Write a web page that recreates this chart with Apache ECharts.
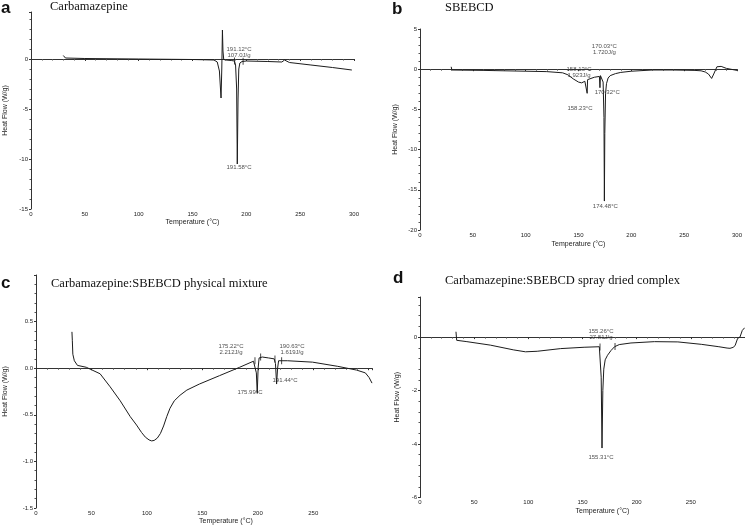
<!DOCTYPE html>
<html><head><meta charset="utf-8">
<script src="https://cdn.jsdelivr.net/npm/echarts@6/dist/echarts.min.js"></script>
<style>html,body{margin:0;padding:0;background:#fff}#c{width:745px;height:527px}</style>
</head><body><div id="c"></div>
<script>
// ---- Data (temperature °C, heat flow W/g) ----
var tempA = [30, 30.5, 32, 50, 100, 150, 170, 173, 175, 176.5, 177.2, 177.8, 178.3, 179, 181, 186, 189, 190, 191, 191.6, 192.3, 193, 194, 196, 200, 220, 233, 235.5, 237, 240, 260, 280, 298];
var flowA = [0.35, 0.15, 0.1, 0.05, 0, -0.05, -0.1, -0.3, -1.2, -3.9, -1.0, 2.9, 0.8, -0.05, -0.1, -0.15, -0.2, -0.6, -3, -10.5, -4, -1.0, -0.4, -0.25, -0.2, -0.25, -0.3, -0.1, -0.2, -0.35, -0.6, -0.85, -1.1];

var tempB = [29.5, 30.2, 32, 60, 100, 120, 135, 140, 145, 150, 153, 156, 157.8, 158.2, 158.6, 160, 165, 169.8, 170.3, 170.8, 172, 173.3, 174.1, 174.5, 174.9, 175.6, 176.5, 178, 180, 185, 190, 200, 220, 240, 260, 266, 270, 273, 276, 278, 281, 285, 290, 300];
var flowB = [0.3, -0.1, -0.1, -0.15, -0.25, -0.3, -0.45, -0.7, -1.2, -1.6, -1.7, -1.5, -1.4, -3.0, -1.3, -1.1, -1.0, -0.9, -2.3, -0.8, -0.8, -1.6, -6, -16.4, -8, -3, -1.8, -1.1, -0.8, -0.55, -0.4, -0.25, -0.1, -0.1, -0.15, -0.2, -0.35, -0.6, -1.15, -0.6, 0.3, 0.35, 0.1, -0.15];

var tempC = [28.6, 28.9, 29.3, 30.5, 33, 40, 51, 59, 67, 75, 80, 84, 87, 90, 92, 94, 96.5, 99, 101.5, 104, 106.6, 110, 114.6, 120, 130, 146, 162, 173, 174.5, 175.3, 176, 176.7, 177.5, 180, 185, 189.5, 190.5, 191.4, 192.2, 193, 200, 220, 240, 255, 262, 265, 267.3];
var flowC = [0.39, 0.3, 0.15, 0.08, 0.03, 0.01, -0.06, -0.2, -0.35, -0.52, -0.61, -0.69, -0.74, -0.77, -0.78, -0.775, -0.75, -0.7, -0.62, -0.52, -0.43, -0.35, -0.29, -0.235, -0.17, -0.08, 0.01, 0.075, 0.08, -0.05, -0.27, 0.0, 0.11, 0.12, 0.11, 0.1, 0.05, -0.17, 0.0, 0.08, 0.08, 0.065, 0.02, -0.02, -0.05, -0.1, -0.16];

var tempD = [30.7, 31.3, 33, 40, 60, 80, 90, 100, 120, 140, 153, 154.6, 155.3, 156, 156.8, 158, 160, 163, 166, 170, 180, 200, 220, 240, 255, 262, 264.5, 266, 267.5, 269, 271, 273, 275, 277];
var flowD = [0.2, -0.12, -0.15, -0.17, -0.3, -0.48, -0.55, -0.53, -0.43, -0.38, -0.36, -1.5, -4.15, -2.0, -1.2, -0.85, -0.68, -0.5, -0.36, -0.28, -0.22, -0.17, -0.18, -0.27, -0.36, -0.41, -0.42, -0.35, -0.38, -0.3, -0.05, 0.0, 0.25, 0.35];

// integration-limit markers [temp, flow]
var markA = [[189, -0.2], [197, -0.22]];
var markC = [[174.2, 0.08], [178.7, 0.12], [190.1, 0.1], [195.4, 0.08]];
var markD = [[153.6, -0.37], [166.4, -0.35]];

// peak annotations [temp, flow, text]
var annA = [[193.2, 0.7, '191.12°C\n107.0J/g'], [193.2, -10.8, '191.58°C']];
var annB = [[174.5, 2.45, '170.03°C\n1.720J/g'], [150.5, -0.35, '158.13°C\n1.923J/g'], [177.2, -2.84, '170.32°C'], [151.4, -4.83, '158.23°C'], [175.4, -17.1, '174.48°C']];
var annC = [[155.1, 0.2, '175.22°C\n2.212J/g'], [203.7, 0.2, '190.63°C\n1.619J/g'], [170.2, -0.26, '175.99°C'], [198.1, -0.13, '191.44°C']];
var annD = [[154.4, 0.12, '155.26°C\n27.81J/g'], [154.4, -4.49, '155.31°C']];

var panelLetters = ['a', 'b', 'c', 'd'];
var panelTitles = ['Carbamazepine', 'SBEBCD', 'Carbamazepine:SBEBCD physical mixture', 'Carbamazepine:SBEBCD spray dried complex'];
var xName = 'Temperature (°C)';
var yName = 'Heat Flow (W/g)';

function zip(a, b) { return a.map(function (v, i) { return [v, b[i]]; }); }

var INK = '#1c1c1c';
var SANS = 'Liberation Sans';
function xAx(grid, min, max, extra) {
  var o = {
    type: 'value', gridIndex: grid, min: min, max: max, interval: 50,
    name: xName, nameLocation: 'middle', nameGap: 10,
    nameTextStyle: { fontSize: 7, color: INK, fontFamily: SANS, verticalAlign: 'top' },
    axisLine: { lineStyle: { color: '#333', width: 1 } },
    axisTick: { show: true, length: 2, lineStyle: { color: '#333' } },
    minorTick: { show: true, splitNumber: 5, length: 1.5, lineStyle: { color: '#555' } },
    axisLabel: { fontSize: 6, color: INK, fontFamily: SANS, margin: 2 },
    splitLine: { show: false }
  };
  for (var k in extra) o[k] = extra[k];
  return o;
}
function yAx(grid, min, max, interval, gap, fmt, showMax) {
  return {
    type: 'value', gridIndex: grid, min: min, max: max, interval: interval,
    name: yName, nameLocation: 'middle', nameGap: gap,
    nameTextStyle: { fontSize: 7, color: INK, fontFamily: SANS },
    axisLine: { show: true, lineStyle: { color: '#333', width: 1 } },
    axisTick: { show: true, length: 2, lineStyle: { color: '#333' } },
    minorTick: { show: true, splitNumber: 5, length: 1.5, lineStyle: { color: '#555' } },
    axisLabel: { fontSize: 6, color: INK, fontFamily: SANS, margin: 3, showMaxLabel: showMax,
      formatter: fmt },
    splitLine: { show: false }
  };
}
function lineS(xi, yi, t, f) {
  return { type: 'line', xAxisIndex: xi, yAxisIndex: yi, data: zip(t, f), showSymbol: false, symbol: 'none',
    lineStyle: { color: INK, width: 1 }, silent: true, animation: false };
}
function markS(xi, yi, arr) {
  return { type: 'scatter', xAxisIndex: xi, yAxisIndex: yi, data: arr, symbol: 'rect', symbolSize: [1, 7],
    itemStyle: { color: INK }, silent: true, animation: false };
}
function annS(xi, yi, arr) {
  return { type: 'scatter', xAxisIndex: xi, yAxisIndex: yi, symbolSize: 0, silent: true, animation: false,
    data: arr.map(function (a) { return { value: [a[0], a[1]], label: { formatter: a[2] } }; }),
    label: { show: true, position: [0, 0], align: 'center', verticalAlign: 'middle', fontSize: 6, lineHeight: 6,
      color: INK, fontFamily: SANS } };
}
function ttl(text, left, top, letter) {
  return { text: text, left: left, top: top, padding: 0,
    textStyle: letter ? { fontSize: 17, fontWeight: 'bold', fontFamily: SANS, color: '#111' }
                      : { fontSize: 12.5, fontWeight: 'normal', fontFamily: 'Liberation Serif', color: '#111' } };
}

var intFmt = function (v) { return String(v); };
var decFmt = function (v) { return v.toFixed(1); };
var cutFmt = function (v) { return v >= 300 ? '' : String(v); };

var option = {
  backgroundColor: '#fff',
  animation: false,
  title: [
    ttl(panelLetters[0], 1, 0, true), ttl(panelTitles[0], 50, 0, false),
    ttl(panelLetters[1], 392, 1, true), ttl(panelTitles[1], 445, 1, false),
    ttl(panelLetters[2], 1, 275, true), ttl(panelTitles[2], 51, 277, false),
    ttl(panelLetters[3], 393, 270, true), ttl(panelTitles[3], 445, 274, false)
  ],
  grid: [
    { left: 31, top: 12, width: 323, height: 197 },
    { left: 420, top: 29, width: 325, height: 201 },
    { left: 36, top: 275, width: 336, height: 233 },
    { left: 420, top: 297, width: 325, height: 200.5 }
  ],
  xAxis: [
    xAx(0, 0, 300, {}),
    xAx(1, 0, 300, { nameGap: 11 }),
    xAx(2, 0, 303, { axisLabel: { fontSize: 6, color: INK, fontFamily: SANS, margin: 2, showMaxLabel: false, formatter: cutFmt },
      nameTextStyle: { fontSize: 7, color: INK, fontFamily: SANS, verticalAlign: 'top', padding: [0, 0, 0, 44] } }),
    xAx(3, 0, 300, { axisLabel: { fontSize: 6, color: INK, fontFamily: SANS, margin: 2, showMaxLabel: false, formatter: cutFmt },
      nameTextStyle: { fontSize: 7, color: INK, fontFamily: SANS, verticalAlign: 'top', padding: [0, 0, 0, 40] } }),
    // hidden data scales for panels c and d (curves plotted on their own temperature scale)
    { type: 'value', gridIndex: 2, min: 0, max: 267.3, show: false },
    { type: 'value', gridIndex: 3, min: 0, max: 277.3, show: false }
  ],
  yAxis: [
    yAx(0, -15, 4.7, 5, 22, intFmt, false),
    yAx(1, -20, 5, 5, 21, intFmt, true),
    yAx(2, -1.5, 1.0, 0.5, 27, decFmt, false),
    yAx(3, -6, 1.5, 2, 19, intFmt, false)
  ],
  series: [
    lineS(0, 0, tempA, flowA), markS(0, 0, markA), annS(0, 0, annA),
    lineS(1, 1, tempB, flowB), annS(1, 1, annB),
    lineS(4, 2, tempC, flowC), markS(4, 2, markC), annS(4, 2, annC),
    lineS(5, 3, tempD, flowD), markS(5, 3, markD), annS(5, 3, annD)
  ]
};
var chart = echarts.init(document.getElementById('c'), null, { renderer: 'canvas' });
chart.setOption(option);
</script></body></html>
